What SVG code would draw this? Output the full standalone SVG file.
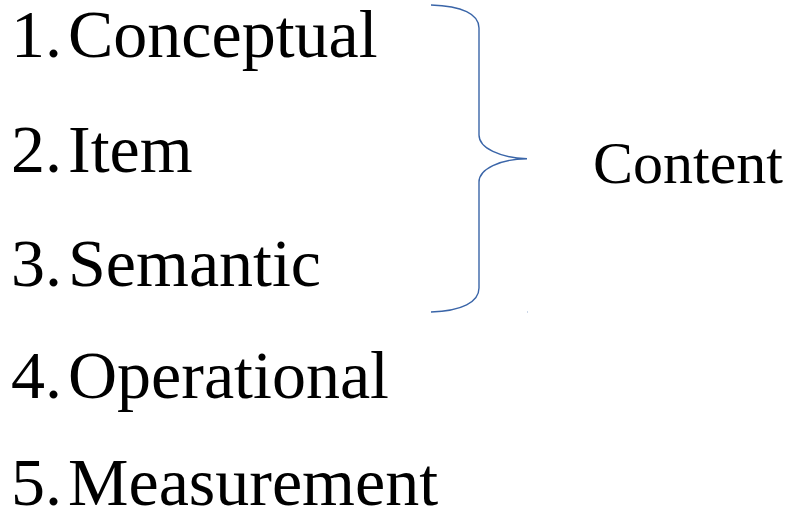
<svg xmlns="http://www.w3.org/2000/svg" width="795" height="513" viewBox="0 0 795 513">
  <style>
    text { font-family: 'Liberation Serif', serif; fill: #000; }
    .item { font-size: 68px; }
    .label { font-size: 60px; }
    .brace { fill: none; stroke: #3A65A8; stroke-width: 1.4; }
  </style>
  <rect width="795" height="513" fill="#fff"/>
  <g id="item1"><text class="item" font-family="Liberation Serif, serif" y="57"><tspan x="11">1.</tspan><tspan x="68">Conceptual</tspan></text></g>
  <g id="item2"><text class="item" font-family="Liberation Serif, serif" y="172"><tspan x="11">2.</tspan><tspan x="68">Item</tspan></text></g>
  <g id="item3"><text class="item" font-family="Liberation Serif, serif" y="286"><tspan x="11">3.</tspan><tspan x="68">Semantic</tspan></text></g>
  <g id="item4"><text class="item" font-family="Liberation Serif, serif" y="398"><tspan x="11">4.</tspan><tspan x="68">Operational</tspan></text></g>
  <g id="item5"><text class="item" font-family="Liberation Serif, serif" y="505"><tspan x="11">5.</tspan><tspan x="68">Measurement</tspan></text></g>
  <g id="connectors">
    <path class="brace" d="M431,5 C462,6 479,14 479,28 L479,135 C479,148 500,158 527,158.7 C500,159 479,169 479,182 L479,288 C479,302 462,311 431,312"/>
    <rect x="527" y="311.5" width="1" height="1" fill="#3A65A8" opacity="0.5"/>
  </g>
  <g id="content"><text class="label" font-family="Liberation Serif, serif" x="593" y="183">Content</text></g>
</svg>
